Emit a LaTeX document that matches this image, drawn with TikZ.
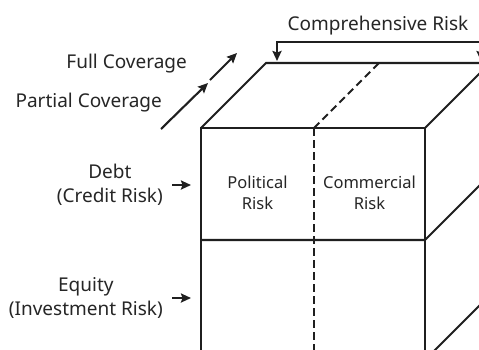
\documentclass[tikz,border=0pt]{standalone}
\usepackage{fontspec}
\setmainfont{Noto Sans}
\usetikzlibrary{arrows.meta}
\begin{document}
\begin{tikzpicture}[x=1pt,y=-1pt,
  edge/.style={line width=2.1pt, draw=black!88, line join=miter},
  dashedge/.style={edge, dash pattern=on 7.5pt off 4.5pt},
  tip/.style={-{Stealth[length=10pt,width=9pt,inset=1.5pt]}},
  arr/.style={line width=2.1pt, draw=black!88, fill=black!88, tip},
  lbl/.style={font=\fontsize{19}{24}\selectfont, text=black!85, inner sep=0pt},
  multi/.style={lbl, align=center},
  cell/.style={font=\fontsize{16.5}{21}\selectfont, text=black!85, align=center, inner sep=0pt}]
\useasboundingbox (0,0) rectangle (479,349);
\fill[white] (0,0) rectangle (479,349);
\clip (0,0) rectangle (479,349);
% cube corners
\coordinate (A) at (201,128);
\coordinate (B) at (425,128);
\coordinate (C) at (266,63);
\coordinate (D) at (490,63);
\coordinate (E) at (201,240);
\coordinate (F) at (425,240);
\coordinate (G) at (201,360);
\coordinate (H) at (425,360);
\coordinate (I) at (490,175);
\coordinate (J) at (490,295);
\coordinate (K) at (314,128);
\coordinate (L) at (379,63);
\coordinate (M) at (314,360);
% cube
\draw[edge] (G) -- (A) -- (B) -- (H);
\draw[edge] (A) -- (C) -- (D);
\draw[edge] (B) -- (D);
\draw[edge] (E) -- (F) -- (I);
\draw[edge] (H) -- (J);
\draw[dashedge] (K) -- (L);
\draw[dashedge] (K) -- (M);
% cell labels
\node[cell] (pol) at (257.5,193) {Political\\Risk};
\node[cell] (com) at (369.5,193) {Commercial\\Risk};
% comprehensive risk
\node[lbl, anchor=base] (comp) at (378,30) {Comprehensive Risk};
\coordinate (bl0) at (277,61);
\coordinate (bl) at (277,42);
\coordinate (br) at (481,42);
\coordinate (br0) at (481,61);
\draw[edge, {Stealth[length=10pt,width=9pt,inset=1.5pt]}-{Stealth[length=10pt,width=9pt,inset=1.5pt]}] (bl0) -- (bl) -- (br) -- (br0);
% coverage
\node[lbl, anchor=base east] (full) at (187,68) {Full Coverage};
\node[lbl, anchor=base east] (part) at (162,107) {Partial Coverage};
\coordinate (p0) at (161,129);
\coordinate (p1) at (208,83);
\coordinate (f0) at (210,80);
\coordinate (f1) at (237,53);
\draw[arr] (p0) -- (p1);
\draw[arr] (f0) -- (f1);
% left labels
\node[multi, anchor=east] (debt) at (163,185) {Debt\\(Credit Risk)};
\node[multi, anchor=east] (eq) at (163,298) {Equity\\(Investment Risk)};
\draw[arr] ([xshift=9pt]debt.east) -- ([xshift=28pt]debt.east);
\draw[arr] ([xshift=9pt]eq.east) -- ([xshift=28pt]eq.east);
\end{tikzpicture}
\end{document}
